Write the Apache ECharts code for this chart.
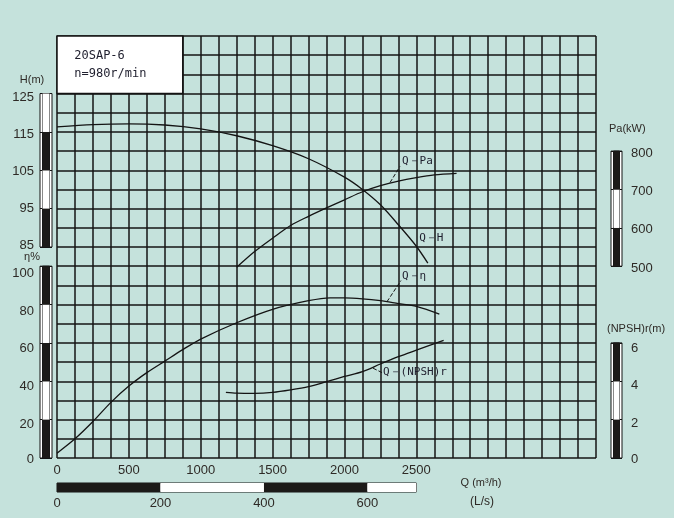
<!DOCTYPE html>
<html><head><meta charset="utf-8">
<script src="https://cdn.jsdelivr.net/npm/echarts@6/dist/echarts.min.js"></script>
<style>html,body{margin:0;padding:0;background:#c5e2dc;}#c{width:674px;height:518px;}</style>
</head><body><div id="c"></div>
<script>
// ---------------- data ----------------
const flowH   = [0, 250, 500, 750, 1000, 1250, 1500, 1750, 2000, 2125, 2250, 2375, 2500, 2580];
const headH   = [116.3, 116.9, 117.1, 116.8, 115.8, 114.0, 111.4, 108.0, 103.2, 100.0, 96.0, 90.8, 85.2, 80.8];

const flowPa  = [1250, 1375, 1500, 1625, 1750, 1875, 2000, 2125, 2250, 2375, 2500, 2625, 2780];
const powerPa = [497, 538, 573, 606, 630, 652, 673, 694, 710, 722, 731, 738, 742];

const flowEta = [0, 125, 250, 375, 500, 625, 750, 875, 1000, 1250, 1500, 1750, 1900, 2000, 2125, 2250, 2375, 2500, 2660];
const effEta  = [2.5, 10, 19, 29, 37.5, 44.5, 50.5, 56.5, 62, 70.5, 77.5, 82, 83.5, 83.5, 83, 82, 80.5, 79, 75];

const flowNp  = [1175, 1250, 1375, 1500, 1625, 1750, 1875, 2000, 2125, 2250, 2375, 2500, 2690];
const npshR   = [3.42, 3.38, 3.37, 3.42, 3.55, 3.72, 3.98, 4.25, 4.50, 4.90, 5.28, 5.62, 6.13];

const qTickLabels   = [0, 500, 1000, 1500, 2000, 2500];
const lsTickLabels  = [0, 200, 400, 600];
const hTickLabels   = [85, 95, 105, 115, 125];
const etaTickLabels = [0, 20, 40, 60, 80, 100];
const paTickLabels  = [500, 600, 700, 800];
const npTickLabels  = [0, 2, 4, 6];

const pumpModel = '20SAP-6';
const pumpSpeed = 'n=980r/min';

// ---------------- layout / style ----------------
const ink = '#141414', dark = '#1c1a18', txt = '#2e2a26';
const sans = '"Liberation Sans", Arial, sans-serif';
const mono = '"DejaVu Sans Mono", "Liberation Mono", monospace';
const P = {left: 57, top: 36, width: 539, height: 422};
const V_MAX = 220, Q_MAX = 3750;
function vy(v){ return P.top + P.height * (1 - v / V_MAX); }

// small vertical nudges of the printed scale labels (px, + = down), as on the scanned sheet
const hNudge   = {85: -2, 95: -0.5, 105: 1, 115: 2.5, 125: 4};
const etaNudge = {0: 1.5, 20: 4.5, 40: 5.5, 60: 6, 80: 6.5, 100: 7};
const paNudge  = {500: 2, 600: 2, 700: 2, 800: 2};
const npNudge  = {0: 1.5, 2: 3.5, 4: 4.5, 6: 6};

function nudgedLabels(labels, nudge, toLabel){
  const rich = {};
  labels.forEach((l, i) => {
    const d = nudge[l] || 0;
    rich['k' + i] = {fontSize: 13, color: txt, fontFamily: sans,
      padding: d >= 0 ? [2 * d, 0, 0, 0] : [0, 0, -2 * d, 0]};
  });
  return {rich: rich, formatter: v => {
    const l = toLabel(v); const i = labels.indexOf(l);
    return i < 0 ? '' : '{k' + i + '|' + l + '}';
  }};
}

const grids = [], xAxes = [], yAxes = [];
function addGrid(g){ g.outerBoundsMode = 'none'; g.containLabel = false; grids.push(g); return grids.length - 1; }

// main grid
const gMain = addGrid({left: P.left, top: P.top, width: P.width, height: P.height, show: false});
xAxes.push({gridIndex: gMain, type: 'value', min: 0, max: Q_MAX, interval: 125,
  axisLine: {show: false}, axisTick: {show: false},
  splitLine: {show: true, lineStyle: {color: ink, width: 1.5}},
  axisLabel: {margin: 6, color: txt, fontSize: 13, fontFamily: sans,
    formatter: v => qTickLabels.includes(v) ? String(v) : ''}});
yAxes.push({gridIndex: gMain, type: 'value', min: 0, max: V_MAX, interval: 10,
  axisLine: {show: false}, axisTick: {show: false}, axisLabel: {show: false},
  splitLine: {show: true, lineStyle: {color: ink, width: 1.5}}});
// hidden unit axes sharing the main grid (η units: v; H = 85+(v-110)/2; Pa = 500+(v-100)*5; NPSH = v/10)
yAxes.push({gridIndex: gMain, type: 'value', min: 30, max: 140, show: false});   // 1: H
yAxes.push({gridIndex: gMain, type: 'value', min: 0, max: 1100, show: false});   // 2: Pa
yAxes.push({gridIndex: gMain, type: 'value', min: 0, max: 22, show: false});     // 3: NPSH

function scaleBar(o){
  const top = vy(o.vTop), h = vy(o.vBot) - top;
  const go = addGrid({left: o.left, top: top, width: o.width, height: h, show: true,
    backgroundColor: '#fff', borderColor: ink, borderWidth: 1});
  xAxes.push({gridIndex: go, type: 'value', min: 0, max: 1, show: false});
  yAxes.push({gridIndex: go, type: 'value', min: o.min, max: o.max, interval: o.interval,
    position: o.side, axisLine: {show: false}, axisTick: {show: false},
    splitLine: {show: true, lineStyle: {color: ink, width: 1}},
    axisLabel: Object.assign({margin: o.margin, color: txt, fontSize: 13, fontFamily: sans}, o.labels)});
  const gi = addGrid({left: o.left + o.inset, top: top, width: o.width - 2 * o.inset, height: h, show: true,
    backgroundColor: '#fff', borderColor: ink, borderWidth: 1});
  xAxes.push({gridIndex: gi, type: 'value', min: 0, max: 1, show: false});
  yAxes.push({gridIndex: gi, type: 'value', min: o.min, max: o.max, interval: o.interval,
    axisLine: {show: false}, axisTick: {show: false}, splitLine: {show: false}, axisLabel: {show: false},
    splitArea: {show: true, areaStyle: {color: [dark, '#fff']}}});
}
// H bar (axis values offset by 85 so ticks start at min)
scaleBar({left: 40, width: 12, inset: 2.5, vTop: 190, vBot: 110, min: 0, max: 40, interval: 10, side: 'left', margin: 6,
  labels: nudgedLabels(hTickLabels, hNudge, v => v + hTickLabels[0])});
scaleBar({left: 40, width: 12, inset: 2.5, vTop: 100, vBot: 0, min: 0, max: 100, interval: 20, side: 'left', margin: 6,
  labels: nudgedLabels(etaTickLabels, etaNudge, v => v)});
scaleBar({left: 611, width: 11, inset: 2.5, vTop: 160, vBot: 100, min: 500, max: 800, interval: 100, side: 'right', margin: 9,
  labels: nudgedLabels(paTickLabels, paNudge, v => v)});
scaleBar({left: 611, width: 11, inset: 2.5, vTop: 60, vBot: 0, min: 0, max: 6, interval: 2, side: 'right', margin: 9,
  labels: nudgedLabels(npTickLabels, npNudge, v => v)});

// L/s bar under the Q axis
const gLs = addGrid({left: P.left, top: 483, width: P.width * 2500 / Q_MAX, height: 9, show: true,
  backgroundColor: '#fff', borderColor: ink, borderWidth: 1});
xAxes.push({gridIndex: gLs, type: 'value', min: 0, max: 2500 / 3.6, interval: 200,
  axisLine: {show: false}, axisTick: {show: false}, splitLine: {show: false},
  splitArea: {show: true, areaStyle: {color: [dark, '#fff']}},
  axisLabel: {margin: 5, color: txt, fontSize: 13, fontFamily: sans,
    formatter: v => lsTickLabels.includes(v) ? String(v) : ''}});
yAxes.push({gridIndex: gLs, type: 'value', min: 0, max: 1, show: false});

const zip = (a, b) => a.map((x, i) => [x, b[i]]);
const curveStyle = {color: ink, width: 1.3};
const annLabel = (text) => ({show: true, position: 'right', distance: 0, color: '#1f1f2e', fontSize: 11, fontFamily: mono, formatter: text});
const leader = (p1, p2) => ({symbol: ['none', 'none'], silent: true, animation: false, label: {show: false},
  lineStyle: {color: ink, type: 'dashed', width: 1}, data: [[{coord: p1}, {coord: p2}]]});

const series = [
  {name: 'Q-H', type: 'line', xAxisIndex: 0, yAxisIndex: 1, data: zip(flowH, headH), showSymbol: false, smooth: 0.3,
   lineStyle: curveStyle, z: 5,
   markPoint: {symbol: 'circle', symbolSize: 0, silent: true, animation: false, label: annLabel('Q－H'), data: [{coord: [2520, 87.2]}]}},
  {name: 'Q-Pa', type: 'line', xAxisIndex: 0, yAxisIndex: 2, data: zip(flowPa, powerPa), showSymbol: false, smooth: 0.3,
   lineStyle: curveStyle, z: 5,
   markPoint: {symbol: 'circle', symbolSize: 0, silent: true, animation: false, label: annLabel('Q－Pa'), data: [{coord: [2400, 773]}]},
   markLine: leader([2317, 718], [2386, 760])},
  {name: 'Q-η', type: 'line', xAxisIndex: 0, yAxisIndex: 0, data: zip(flowEta, effEta), showSymbol: false, smooth: 0.3,
   lineStyle: curveStyle, z: 5,
   markPoint: {symbol: 'circle', symbolSize: 0, silent: true, animation: false, label: annLabel('Q－η'), data: [{coord: [2400, 94.6]}]},
   markLine: leader([2296, 81.5], [2393, 92.5]),
   markArea: {silent: true, animation: false,
     itemStyle: {color: '#fff', borderColor: ink, borderWidth: 1.5},
     label: {show: true, position: 'insideLeft', distance: 18, color: '#1f1f2e', fontSize: 12, fontFamily: mono, lineHeight: 18,
       formatter: pumpModel + '\n' + pumpSpeed},
     data: [[{coord: [0, 190]}, {coord: [875, 220]}]]}},
  {name: 'Q-(NPSH)r', type: 'line', xAxisIndex: 0, yAxisIndex: 3, data: zip(flowNp, npshR), showSymbol: false, smooth: 0.3,
   lineStyle: curveStyle, z: 5,
   markPoint: {symbol: 'circle', symbolSize: 0, silent: true, animation: false, label: annLabel('Q－(NPSH)r'), data: [{coord: [2268, 4.49]}]},
   markLine: leader([2199, 4.68], [2262, 4.45])}
];

const nameText = (t, x, y, align, size) => ({type: 'text', x: x, y: y, silent: true,
  style: {text: t, fill: txt, font: (size || 11) + 'px ' + sans, textAlign: align, textVerticalAlign: 'middle'}});

const chart = echarts.init(document.getElementById('c'));
chart.setOption({
  backgroundColor: '#c5e2dc',
  animation: false,
  grid: grids, xAxis: xAxes, yAxis: yAxes, series: series,
  graphic: [
    nameText('H(m)', 32, 80, 'center'),
    nameText('η%', 32, 257, 'center'),
    nameText('Pa(kW)', 609, 129, 'left'),
    nameText('(NPSH)r(m)', 607, 329, 'left'),
    nameText('Q (m³/h)', 481, 483, 'center'),
    nameText('(L/s)', 482, 502, 'center', 12)
  ]
});
</script></body></html>
